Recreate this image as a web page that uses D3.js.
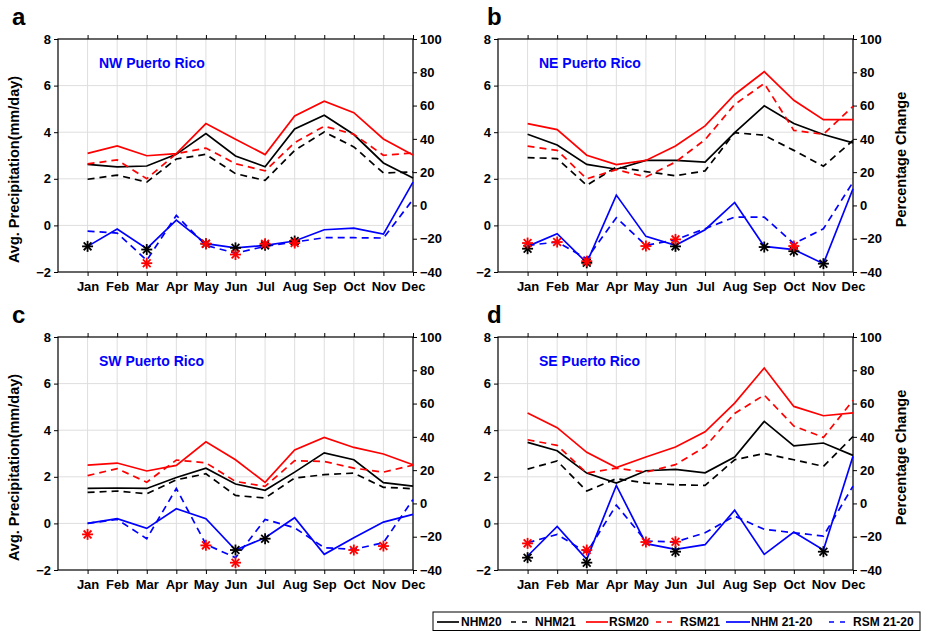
<!DOCTYPE html>
<head>
<meta charset="utf-8">
<style>
body { margin: 0; background: #fff; }
text { font-family: "Liberation Sans", Arial, sans-serif; font-weight: bold; }
.grid line { stroke: #dedede; stroke-width: 1; }
.axis path, .axis line { stroke: #000; }
</style>
</head>
<body>
<svg width="929" height="631"></svg>
<script src="https://cdn.jsdelivr.net/npm/d3@7"></script>
<script>

var months = ["Jan","Feb","Mar","Apr","May","Jun","Jul","Aug","Sep","Oct","Nov","Dec"];
var regions = ["NW Puerto Rico","NE Puerto Rico","SW Puerto Rico","SE Puerto Rico"];
var letters = ["a","b","c","d"];

// precipitation (mm/day), one row per region: NW, NE, SW, SE
var NHM20 = [
  [2.62,2.51,2.55,3.05,3.94,2.98,2.52,4.14,4.73,3.90,2.68,2.03],
  [3.91,3.45,2.62,2.41,2.79,2.79,2.72,3.98,5.13,4.37,3.90,3.54],
  [1.50,1.52,1.50,1.97,2.37,1.69,1.42,2.20,3.03,2.73,1.75,1.60],
  [3.48,3.12,2.16,1.73,2.26,2.32,2.17,2.85,4.38,3.33,3.45,2.92]
];
var NHM21 = [
  [1.98,2.16,1.86,2.85,3.05,2.22,1.93,3.22,4.01,3.37,2.25,2.30],
  [2.91,2.87,1.72,2.51,2.31,2.13,2.34,3.98,3.87,3.22,2.54,3.65],
  [1.33,1.39,1.27,1.87,2.13,1.20,1.09,1.95,2.09,2.16,1.55,1.49],
  [2.33,2.68,1.39,1.92,1.73,1.66,1.63,2.73,3.00,2.73,2.45,3.73]
];
var RSM20 = [
  [3.09,3.41,2.99,3.08,4.37,3.70,3.04,4.70,5.33,4.84,3.71,3.02],
  [4.37,4.11,3.01,2.61,2.79,3.41,4.27,5.62,6.60,5.37,4.54,4.54],
  [2.50,2.59,2.25,2.49,3.50,2.73,1.76,3.15,3.69,3.26,2.98,2.52],
  [4.74,4.11,3.05,2.40,2.85,3.28,3.93,5.16,6.67,5.02,4.62,4.74]
];
var RSM21 = [
  [2.64,2.81,2.00,3.08,3.32,2.65,2.34,3.55,4.26,3.91,3.01,3.11],
  [3.40,3.22,2.00,2.39,2.08,2.72,3.68,5.19,6.09,4.08,3.91,5.11],
  [2.05,2.35,1.77,2.72,2.60,1.80,1.59,2.69,2.66,2.37,2.20,2.50],
  [3.59,3.35,2.16,2.37,2.20,2.52,3.29,4.72,5.51,4.18,3.69,5.28]
];
// percentage change 21-20
var NHMdiff = [
  [-24.6,-14.2,-26.0,-8.8,-23.0,-25.5,-24.0,-21.4,-14.6,-13.6,-17.2,14.0],
  [-24.6,-17.0,-34.5,6.2,-18.6,-24.0,-14.6,1.8,-24.6,-26.5,-35.0,10.0],
  [-12.0,-9.2,-15.0,-3.2,-9.2,-28.0,-20.6,-8.6,-30.6,-20.6,-11.2,-6.6],
  [-31.6,-13.8,-33.6,10.8,-24.2,-27.6,-24.8,-4.0,-30.6,-17.2,-28.0,28.4]
];
var RSMdiff = [
  [-15.4,-16.6,-33.0,-6.0,-24.0,-28.7,-24.6,-22.0,-19.4,-19.4,-19.6,3.6],
  [-24.0,-22.0,-32.0,-7.4,-24.0,-20.6,-14.0,-7.0,-7.0,-23.0,-14.0,14.0],
  [-12.0,-9.6,-21.2,9.0,-24.6,-32.6,-9.6,-14.6,-26.6,-27.6,-23.6,2.4],
  [-23.6,-18.6,-29.6,-1.0,-22.6,-23.2,-17.6,-7.6,-15.6,-17.6,-19.6,10.4]
];
// significance markers: [month index 1-12, percentage]
var NHMstars = [
  [[1,-24.6],[3,-26.5],[5,-23],[6,-25.5],[7,-24],[8,-21.4]],
  [[1,-26],[3,-34.5],[6,-24.6],[9,-25],[10,-27.5],[11,-35]],
  [[6,-28],[7,-21.2]],
  [[1,-32.6],[3,-35.6],[6,-29],[11,-29]]
];
var RSMstars = [
  [[3,-34.7],[5,-23],[6,-29.5],[7,-23],[8,-22.6]],
  [[1,-22.6],[2,-22],[3,-33.5],[5,-24.4],[6,-20.4],[10,-24.4]],
  [[1,-18.6],[5,-25.2],[6,-35.6],[10,-28],[11,-25.6]],
  [[1,-24],[3,-28],[5,-23.2],[6,-23]]
];
var leftTicks = [-2,0,2,4,6,8];
var rightTicks = [-40,-20,0,20,40,60,80,100];

var legendNames = ["NHM20","NHM21","RSM20","RSM21","NHM 21-20","RSM 21-20"];

var svg = d3.select("svg");

var boxes = [
  {x0:58, x1:413, y0:39, y1:272},
  {x0:498, x1:853, y0:39, y1:272},
  {x0:58, x1:413, y0:337, y1:570},
  {x0:498, x1:853, y0:337, y1:570}
];

function star(g, cx, cy, color){
  var r = 5.5;
  for (var k = 0; k < 4; k++) {
    var a = k * Math.PI / 4;
    g.append("line")
      .attr("x1", cx - r*Math.cos(a)).attr("y1", cy - r*Math.sin(a))
      .attr("x2", cx + r*Math.cos(a)).attr("y2", cy + r*Math.sin(a))
      .attr("stroke", color).attr("stroke-width", 1.8);
  }
}

boxes.forEach(function(b, p){
  var x = d3.scaleLinear().domain([0,12]).range([b.x0, b.x1]);
  var y = d3.scaleLinear().domain([-2,8]).range([b.y1, b.y0]);
  var y2 = d3.scaleLinear().domain([-40,100]).range([b.y1, b.y0]);
  var g = svg.append("g");
  var idx = d3.range(1,13);

  // grid
  var grid = g.append("g").attr("class","grid");
  grid.selectAll(".v").data(idx).enter().append("line")
    .attr("x1", d => x(d)).attr("x2", d => x(d))
    .attr("y1", b.y0).attr("y2", b.y1);
  grid.selectAll(".h").data(leftTicks.slice(1,-1)).enter().append("line")
    .attr("x1", b.x0).attr("x2", b.x1)
    .attr("y1", d => y(d)).attr("y2", d => y(d));

  // frame
  g.append("rect").attr("x", b.x0).attr("y", b.y0)
    .attr("width", b.x1-b.x0).attr("height", b.y1-b.y0)
    .attr("fill","none").attr("stroke","#000").attr("stroke-width",1.2);

  // axes
  var ax = g.append("g").attr("class","axis").attr("transform","translate(0,"+b.y1+")")
    .call(d3.axisBottom(x).tickValues(idx).tickFormat(d => months[d-1]).tickSize(4).tickPadding(6));
  ax.select(".domain").remove();
  ax.selectAll("text").attr("font-size","13px").attr("fill","#000");

  var at = g.append("g").attr("class","axis").attr("transform","translate(0,"+b.y0+")")
    .call(d3.axisTop(x).tickValues(idx).tickFormat("").tickSize(4));
  at.select(".domain").remove();

  var al = g.append("g").attr("class","axis").attr("transform","translate("+b.x0+",0)")
    .call(d3.axisLeft(y).tickValues(leftTicks).tickSize(4).tickPadding(3));
  al.select(".domain").remove();
  al.selectAll("text").attr("font-size","13px").attr("fill","#000");

  var ar = g.append("g").attr("class","axis").attr("transform","translate("+b.x1+",0)")
    .call(d3.axisRight(y2).tickValues(rightTicks).tickSize(4).tickPadding(3));
  ar.select(".domain").remove();
  ar.selectAll("text").attr("font-size","13px").attr("fill","#000");

  // lines
  var lineL = d3.line().x((d,i) => x(i+1)).y(d => y(d));
  var lineR = d3.line().x((d,i) => x(i+1)).y(d => y2(d));
  var series = [
    {d: NHM20[p], c:"#000", dash:null, f: lineL},
    {d: NHM21[p], c:"#000", dash:"7,5", f: lineL},
    {d: RSM20[p], c:"#ff0000", dash:null, f: lineL},
    {d: RSM21[p], c:"#ff0000", dash:"7,5", f: lineL},
    {d: NHMdiff[p], c:"#0000ff", dash:null, f: lineR},
    {d: RSMdiff[p], c:"#0000ff", dash:"7,5", f: lineR}
  ];
  series.forEach(function(s){
    g.append("path").attr("d", s.f(s.d))
      .attr("fill","none").attr("stroke", s.c).attr("stroke-width",1.7)
      .attr("stroke-dasharray", s.dash);
  });

  NHMstars[p].forEach(function(s){ star(g, x(s[0]), y2(s[1]), "#000"); });
  RSMstars[p].forEach(function(s){ star(g, x(s[0]), y2(s[1]), "#ff0000"); });

  // title
  g.append("text").attr("x", b.x0 + 41).attr("y", b.y0 + 29)
    .attr("fill","#0000ff").attr("font-size","14px").text(regions[p]);

  // panel letter
  g.append("text").attr("x", b.x0 - 46 + (p%2==1 ? -0 : 0)).attr("y", b.y0 - 14)
    .attr("font-size","24px").attr("fill","#000")
    .attr("x", p%2==0 ? 12 : 487)
    .text(letters[p]);

  var cy = (b.y0 + b.y1)/2;
  if (p%2==0) {
    g.append("text").attr("transform","translate(19,"+(cy+14)+") rotate(-90)")
      .attr("text-anchor","middle").attr("font-size","14.5px").text("Avg. Precipitation(mm/day)");
  } else {
    g.append("text").attr("transform","translate(906,"+(cy+4)+") rotate(-90)")
      .attr("text-anchor","middle").attr("font-size","14.5px").text("Percentage Change");
  }
});

// legend
var lg = svg.append("g");
lg.append("rect").attr("x",433).attr("y",612).attr("width",487).attr("height",18.5)
  .attr("fill","#fff").attr("stroke","#000").attr("stroke-width",1);
var legX = [[437,459,461],[511,528,535],[586,608,609],[656,673,680],[726,750,751],[829,847,853]];
var legC = ["#000","#000","#ff0000","#ff0000","#0000ff","#0000ff"];
legendNames.forEach(function(n,i){
  lg.append("line").attr("x1",legX[i][0]).attr("x2",legX[i][1]).attr("y1",622).attr("y2",622)
    .attr("stroke",legC[i]).attr("stroke-width",1.7)
    .attr("stroke-dasharray", i%2==1 ? "5,6" : null);
  lg.append("text").attr("x",legX[i][2]).attr("y",626).attr("font-size","12px").text(n);
});

</script>
</body>
